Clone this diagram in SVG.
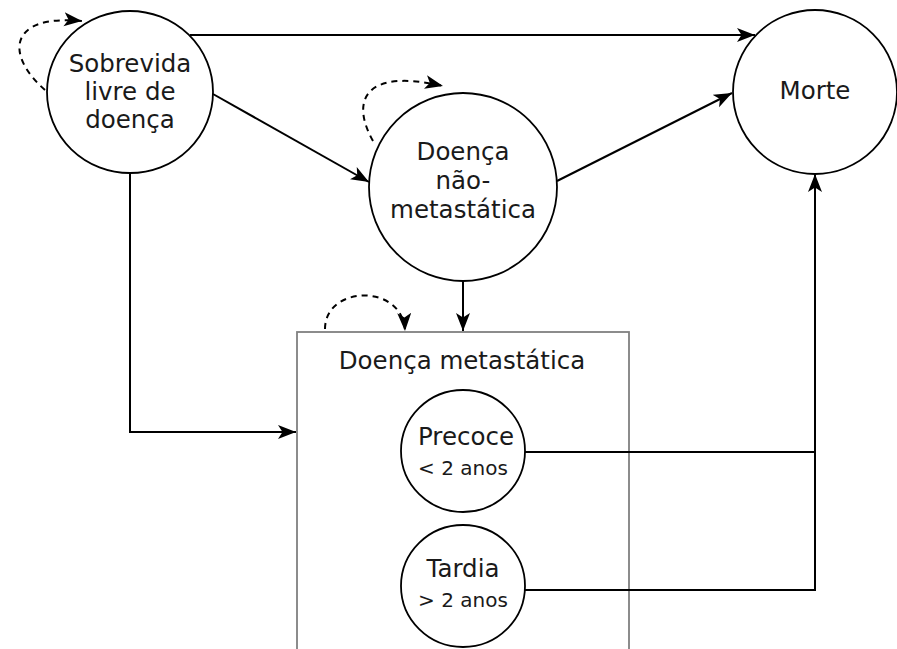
<svg xmlns="http://www.w3.org/2000/svg" width="897" height="649" viewBox="0 0 897 649">
<defs>
<marker id="arr" markerWidth="19" markerHeight="15" refX="18" refY="7" orient="auto" markerUnits="userSpaceOnUse">
<path d="M0,0 L18,7 L0,14 L4.5,7 Z" fill="#000"/>
</marker>
<style>
.node{fill:#fff;stroke:#000;stroke-width:1.8}
.box{fill:#fff;stroke:#808080;stroke-width:1.8}
.t{font-family:"DejaVu Sans",Verdana,sans-serif;font-size:24.5px;fill:#1a1a1a;text-anchor:middle}
.s{font-size:20px}
.c{fill:none;stroke:#000;stroke-width:2}
.d{fill:none;stroke:#000;stroke-width:2;stroke-dasharray:6,5}
</style>
</defs>
<rect width="897" height="649" fill="#fff"/>
<g id="metastatica">
<rect class="box" x="297" y="332" width="332" height="330"/>
<text class="t" x="462" y="369">Doença metastática</text>
</g>
<g id="connectors">
<path class="c" d="M190,35 L755,35" marker-end="url(#arr)"/>
<path class="c" d="M213,94 L369,182" marker-end="url(#arr)"/>
<path class="c" d="M557,181 L732,93" marker-end="url(#arr)"/>
<path class="c" d="M130,173 L130,432 L296,432" marker-end="url(#arr)"/>
<path class="c" d="M463,282 L463,331" marker-end="url(#arr)"/>
<path class="c" d="M525,452 L815,452"/>
<path class="c" d="M525,590 L815,590 L815,174" marker-end="url(#arr)"/>
<path class="d" d="M45,90 C5,55 8,14 82,21" marker-end="url(#arr)"/>
<path class="d" d="M373,141 C350,100 365,68 443,86" marker-end="url(#arr)"/>
<path class="d" d="M325,329 C325,285 403,283 405,331" marker-end="url(#arr)"/>
</g>
<g id="sobrevida">
<ellipse class="node" cx="130" cy="92" rx="83" ry="81"/>
<text class="t" x="130" y="72">Sobrevida</text>
<text class="t" x="130" y="100">livre de</text>
<text class="t" x="130" y="128">doença</text>
</g>
<g id="nao-metastatica">
<circle class="node" cx="463" cy="187" r="94"/>
<text class="t" x="463" y="160">Doença</text>
<text class="t" x="463" y="189">não-</text>
<text class="t" x="463" y="218">metastática</text>
</g>
<g id="morte">
<circle class="node" cx="815" cy="92" r="82"/>
<text class="t" x="815" y="99">Morte</text>
</g>
<g id="precoce">
<ellipse class="node" cx="463" cy="451" rx="62" ry="61"/>
<text class="t" x="466" y="445">Precoce</text>
<text class="t s" x="463" y="475">&lt; 2 anos</text>
</g>
<g id="tardia">
<ellipse class="node" cx="463" cy="586" rx="62" ry="61"/>
<text class="t" x="463" y="577">Tardia</text>
<text class="t s" x="463" y="607">&gt; 2 anos</text>
</g>
</svg>
